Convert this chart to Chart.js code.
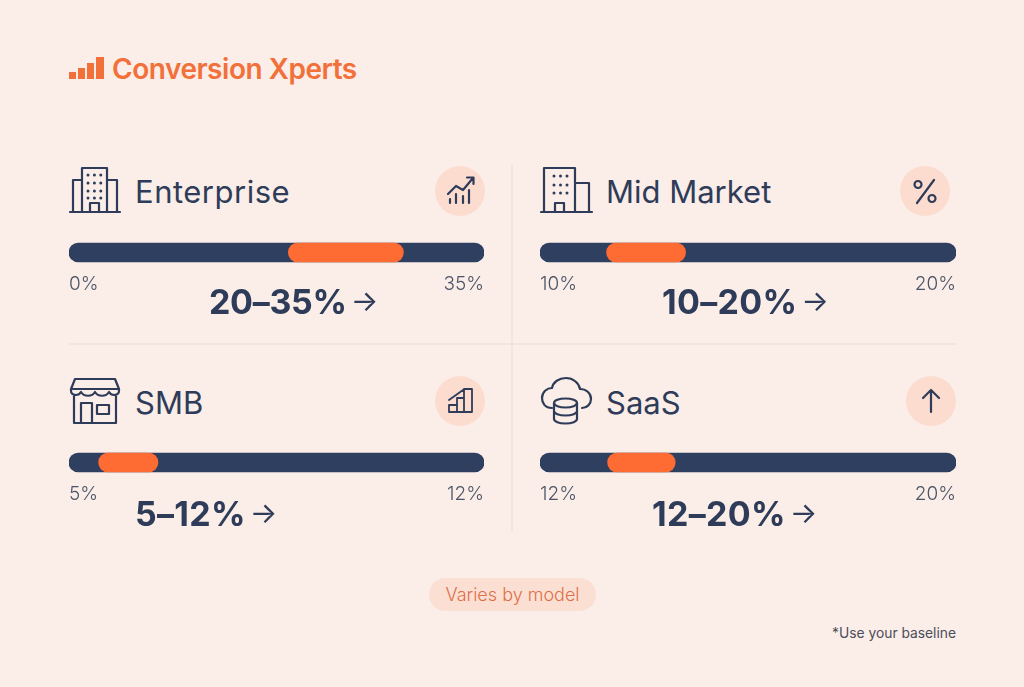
<!DOCTYPE html>
<html>
<head>
<meta charset="utf-8">
<title>Conversion Xperts</title>
<script src="https://cdn.jsdelivr.net/npm/chart.js@4/dist/chart.umd.min.js"></script>
<style>
  html, body { margin: 0; padding: 0; }
  body { width: 1024px; height: 687px; overflow: hidden; background: #fbede7; position: relative; font-family: Inter, sans-serif; color: #2e3c59; }
  #art { position: absolute; left: 0; top: 0; }
  canvas { position: absolute; }
  .txt { position: absolute; white-space: nowrap; line-height: 1; }
  .logo { left: 112px; top: 55px; font-size: 28px; font-weight: 600; letter-spacing: -0.47px; color: #f2703a; }
  .name { font-size: 31px; font-weight: 400; }
  .big { font-size: 34px; font-weight: 700; letter-spacing: 0.3px; }
  .big span { font-size: 29px; font-weight: 400; margin-left: 4px; position: relative; top: -3px; }
  #name0 { left: 135px; top: 176px; letter-spacing: 0.5px; }
  #name1 { left: 606px; top: 176px; }
  #name2 { left: 135px; top: 387px; }
  #name3 { left: 606px; top: 387px; }
  #big0 { left: 209px; top: 285px; letter-spacing: -0.3px; }
  #big1 { left: 662px; top: 285px; }
  #big2 { left: 135px; top: 497px; }
  #big3 { left: 652px; top: 497px; }
  #chart0 { left: 64px; top: 237px; }
  #chart1 { left: 535px; top: 237px; }
  #chart2 { left: 64px; top: 447px; }
  #chart3 { left: 535px; top: 447px; }
  .pill { left: 429px; top: 578px; width: 167px; height: 33px; line-height: 33px; border-radius: 17px; background: #fcdfd3; color: #dc6f48; font-size: 18px; font-weight: 300; text-align: center; }
  .note { right: 68px; top: 627px; font-size: 13.8px; color: #4b4d5c; }
</style>
</head>
<body>
<svg id="art" width="1024" height="687" viewBox="0 0 1024 687" fill="none" stroke="#2e3c59" stroke-width="2.2" stroke-linecap="round" stroke-linejoin="round">
  <!-- logo bars -->
  <g fill="#f2703a" stroke="none">
    <rect x="69" y="72" width="7" height="7"/>
    <rect x="78" y="68" width="7" height="11"/>
    <rect x="87" y="63" width="7" height="16"/>
    <rect x="96" y="57" width="8" height="22"/>
  </g>
  <!-- dividers -->
  <g stroke="#e9dcd6" stroke-width="1" stroke-linecap="butt">
    <line x1="69" y1="344" x2="956" y2="344"/>
    <line x1="512" y1="165" x2="512" y2="532"/>
  </g>
  <!-- right hand circles -->
  <g fill="#fcdccf" stroke="none">
    <circle cx="460" cy="191" r="25"/>
    <circle cx="925" cy="191" r="25"/>
    <circle cx="460" cy="401" r="25"/>
    <circle cx="931" cy="401" r="25"/>
  </g>
  <!-- enterprise building -->
  <path d="M70 212H120M82 212V168H107V212M82 180H73V212M107 180H117V212M90 212V203H99V212"/>
  <g stroke-width="3" stroke-dasharray="0 6.4">
    <path d="M88 175H102M88 183H102M88 191H102M88 198H102"/>
  </g>
  <!-- mid market building -->
  <path d="M541 212H592M544 212V168H575V212M575 183H589V212M555 212V203H564V212"/>
  <g stroke-width="3" stroke-dasharray="0 6.5">
    <path d="M554 176H568M554 185H568M554 193H568"/>
  </g>
  <!-- smb store -->
  <path d="M75 379H115L119 389V391C119 395 112 397 109 392C106 397 98 397 95 392C92 397 84 397 81 392C78 397 71 395 71 391V389ZM71 389H119M74 396V423H116V396M81 423V403H92V423M97 405H109V414H97Z"/>
  <!-- saas cloud and database -->
  <path d="M552 408C545 408 542 403 542 398C542 392 547 388 552 388C553 382 559 378 566 378C573 378 579 383 580 389C586 389 591 393 591 399C591 404 587 408 582 408"/>
  <ellipse cx="565.5" cy="403" rx="11.5" ry="4.5"/>
  <path d="M554 403V419C554 421.5 559 423.5 565.5 423.5C572 423.5 577 421.5 577 419V403M554 411C554 413.5 559 415.5 565.5 415.5C572 415.5 577 413.5 577 411"/>
  <!-- small icons -->
  <path d="M448 194L456 186L463 190L473 178M467 177.5H473.5V184M450 203V199M456 203V194M463 203V196M469 203V190"/>
  <path d="M934 180L917 203M918 184.5m-3.5 0a3.5 3.5 0 1 0 7 0a3.5 3.5 0 1 0 -7 0M932 198.5m-3.5 0a3.5 3.5 0 1 0 7 0a3.5 3.5 0 1 0 -7 0" stroke-width="2.2"/>
  <path d="M449 400L463 390M449 412V405H457V412M457 412V398H464V412M464 412V389H472V412M449 412H472" stroke-width="1.8"/>
  <path d="M931 412V390M923 398L931 390L939 398" stroke-width="2.2"/>
</svg>

<div class="txt logo">Conversion Xperts</div>
<div class="txt name" id="name0"></div>
<div class="txt name" id="name1"></div>
<div class="txt name" id="name2"></div>
<div class="txt name" id="name3"></div>
<canvas id="chart0" width="425" height="62"></canvas>
<canvas id="chart1" width="426" height="62"></canvas>
<canvas id="chart2" width="425" height="62"></canvas>
<canvas id="chart3" width="426" height="62"></canvas>
<div class="txt big" id="big0"></div>
<div class="txt big" id="big1"></div>
<div class="txt big" id="big2"></div>
<div class="txt big" id="big3"></div>
<div class="txt pill">Varies by model</div>
<div class="txt note">*Use your baseline</div>

<script>
const segments = ['Enterprise', 'Mid Market', 'SMB', 'SaaS'];
const axisMin = [0, 10, 5, 12];
const axisMax = [35, 20, 12, 20];
const rangeLow = [18.5, 11.6, 5.5, 13.3];
const rangeHigh = [28.2, 13.5, 6.5, 14.6];
const rangeLabels = ['20–35%', '10–20%', '5–12%', '12–20%'];

segments.forEach((name, i) => {
  document.getElementById('name' + i).textContent = name;
  document.getElementById('big' + i).innerHTML = rangeLabels[i] + '<span>→</span>';

  new Chart(document.getElementById('chart' + i), {
    type: 'bar',
    data: {
      labels: [name],
      datasets: [
        {
          data: [[rangeLow[i], rangeHigh[i]]],
          backgroundColor: '#ff6c33',
          order: 0
        },
        {
          data: [[axisMin[i], axisMax[i]]],
          backgroundColor: '#2e3f5f',
          order: 1
        }
      ]
    },
    options: {
      indexAxis: 'y',
      responsive: false,
      animation: false,
      layout: { autoPadding: false },
      datasets: {
        bar: { grouped: false, barThickness: 19, borderRadius: 9.5, borderSkipped: false }
      },
      plugins: {
        legend: { display: false },
        tooltip: { enabled: false }
      },
      scales: {
        x: {
          min: axisMin[i],
          max: axisMax[i],
          afterBuildTicks: (axis) => {
            axis.ticks = [{ value: axisMin[i] }, { value: axisMax[i] }];
          },
          grid: { display: false, drawTicks: false },
          border: { display: false },
          ticks: {
            align: 'inner',
            autoSkip: false,
            maxRotation: 0,
            // the scale insets itself by this padding, the canvas is wider to make up for it
            padding: 5,
            color: '#4c5568',
            font: { family: 'Inter', size: 19, weight: 300 },
            callback: (v) => v + '%'
          }
        },
        y: { display: false }
      }
    }
  });
});
</script>
</body>
</html>
